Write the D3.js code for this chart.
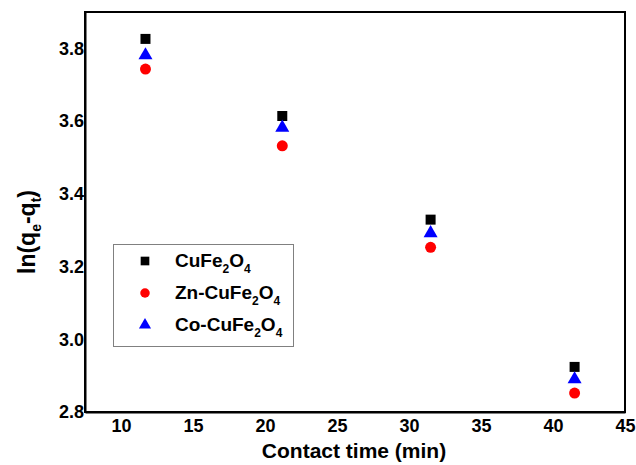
<!DOCTYPE html>
<html><head><meta charset="utf-8">
<script src="https://cdn.jsdelivr.net/npm/d3@7"></script>
<style>body{margin:0;background:#fff}text{font-family:Arial,"Liberation Sans",sans-serif;font-weight:bold}</style>
</head><body>
<svg id="c" width="636" height="465"></svg>
<script>
const times = [11.7, 21.2, 31.5, 41.5];
const cuFe = [3.826, 3.614, 3.329, 2.924];
const znCuFe = [3.743, 3.532, 3.253, 2.852];
const coCuFe = [3.781, 3.582, 3.292, 2.890];
const xTicks = [10, 15, 20, 25, 30, 35, 40, 45];
const yTicks = [2.8, 3.0, 3.2, 3.4, 3.6, 3.8];
const series = [
  {name: "CuFe", vals: cuFe, color: "#000", shape: d3.symbolSquare, size: 100},
  {name: "Zn-CuFe", vals: znCuFe, color: "#ff0000", shape: d3.symbolCircle, size: 95},
  {name: "Co-CuFe", vals: coCuFe, color: "#0000ff", shape: d3.symbolTriangle, size: 85}
];
const svg = d3.select("#c");
const L = 85, R = 625, T = 12, B = 412;
const x = d3.scaleLinear().domain([7.5, 45]).range([L, R]);
const y = d3.scaleLinear().domain([2.8, 3.9]).range([B, T]);

svg.append("rect").attr("x", L).attr("y", T).attr("width", R - L).attr("height", B - T)
  .attr("fill", "none").attr("stroke", "#000").attr("stroke-width", 2);

const xa = svg.append("g").attr("transform", `translate(0,${B})`)
  .call(d3.axisBottom(x).tickValues(xTicks).tickSize(0).tickPadding(5).tickFormat(d3.format("d")));
xa.select(".domain").attr("stroke-width", 2);
xa.selectAll("text").attr("font-size", 18).attr("fill", "#000").attr("dy", "0.85em");
const ya = svg.append("g").attr("transform", `translate(${L},0)`)
  .call(d3.axisLeft(y).tickValues(yTicks).tickSize(0).tickPadding(1).tickFormat(d3.format(".1f")));
ya.select(".domain").attr("stroke-width", 2);
ya.selectAll("text").attr("font-size", 18).attr("fill", "#000");

series.forEach(s => {
  svg.append("g").selectAll("path").data(s.vals).join("path")
    .attr("transform", (d, i) => `translate(${x(times[i])},${y(d)})`)
    .attr("d", d3.symbol().type(s.shape).size(s.size))
    .attr("fill", s.color);
});

const lg = svg.append("g");
lg.append("rect").attr("x", 113.5).attr("y", 244.5).attr("width", 180).attr("height", 102)
  .attr("fill", "#fff").attr("stroke", "#808080").attr("stroke-width", 1);
const ly = [261, 293, 325];
series.forEach((s, i) => {
  lg.append("path").attr("transform", `translate(145,${ly[i]})`)
    .attr("d", d3.symbol().type(s.shape).size(s.size * 0.75)).attr("fill", s.color);
  const t = lg.append("text").attr("x", 175).attr("y", ly[i] + 6).attr("font-size", 19).attr("fill", "#000");
  t.append("tspan").text(s.name);
  t.append("tspan").text("2").attr("font-size", 12).attr("dy", 6);
  t.append("tspan").text("O").attr("dy", -6);
  t.append("tspan").text("4").attr("font-size", 12).attr("dy", 6);
});

svg.append("text").attr("x", 354).attr("y", 458).attr("text-anchor", "middle")
  .attr("font-size", 21).attr("fill", "#000").text("Contact time (min)");
const yt = svg.append("text").attr("transform", "translate(35,232) rotate(-90)")
  .attr("text-anchor", "middle").attr("font-size", 23).attr("fill", "#000");
yt.append("tspan").text("ln(q");
yt.append("tspan").text("e").attr("font-size", 14).attr("dy", 6);
yt.append("tspan").text("-q").attr("dy", -6);
yt.append("tspan").text("t").attr("font-size", 14).attr("dy", 6);
yt.append("tspan").text(")").attr("dy", -6);
</script>
</body></html>
